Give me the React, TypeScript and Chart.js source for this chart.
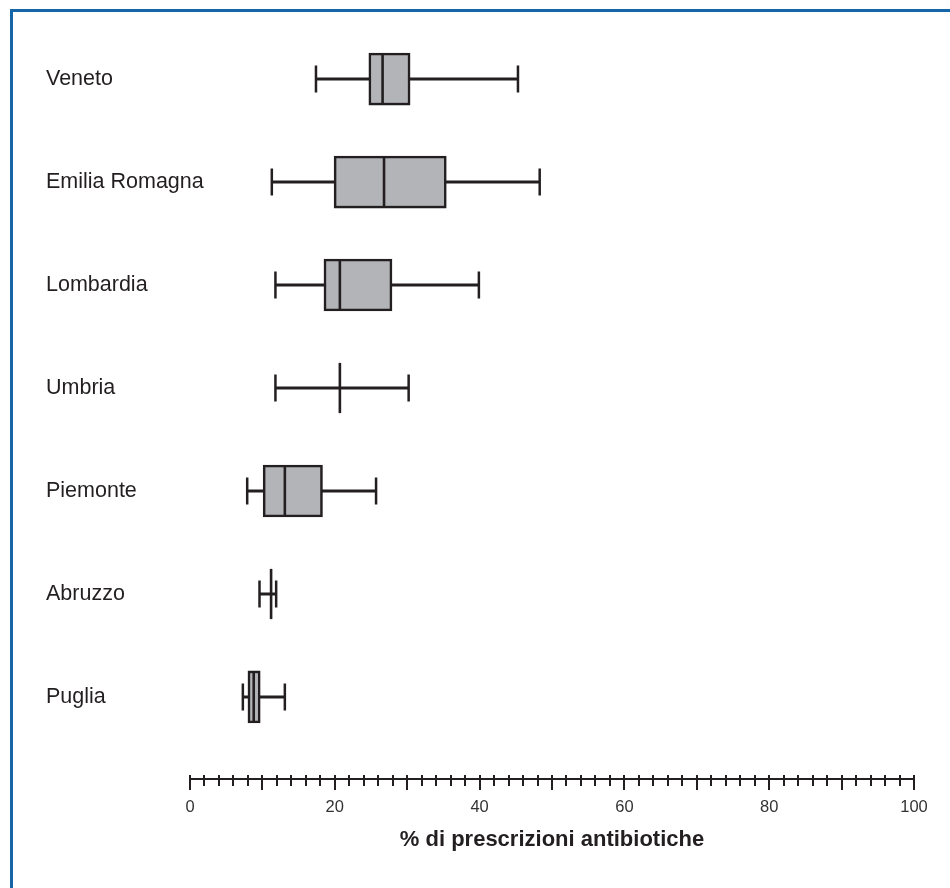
import React, { useEffect, useRef } from "react";
import Chart from "chart.js/auto";

const categories = ["Veneto", "Emilia Romagna", "Lombardia", "Umbria", "Piemonte", "Abruzzo", "Puglia"];
const mins = [17.4, 11.3, 11.8, 11.8, 7.9, 9.6, 7.3];
const q1s = [24.7, 19.9, 18.5, 20.7, 10.1, 11.2, 8.0];
const medians = [26.6, 26.8, 20.7, 20.7, 13.1, 11.2, 8.8];
const q3s = [30.4, 35.4, 27.9, 20.7, 18.3, 11.2, 9.7];
const maxs = [45.3, 48.3, 39.9, 30.2, 25.7, 11.9, 13.1];
const xLabelValues = [0, 20, 40, 60, 80, 100];
const xMajorStep = 10;
const xMinorStep = 2;
const xTitle = "% di prescrizioni antibiotiche";

const INK = "#231f20";
const BOX_FILL = "#b3b4b8";
const FONT = "'Liberation Sans', Arial, Helvetica, sans-serif";

const tickMarksPlugin = {
  id: "tickMarks",
  afterDraw(chart: any) {
    const xs = chart.scales.x;
    const ctx = chart.ctx;
    const yAxis = xs.top;
    ctx.save();
    ctx.strokeStyle = INK;
    ctx.lineWidth = 2;
    for (let v = xs.min; v <= xs.max + 1e-9; v += xMinorStep) {
      const px = Math.round(xs.getPixelForValue(v));
      const isMajor = Math.abs(v / xMajorStep - Math.round(v / xMajorStep)) < 1e-6;
      ctx.beginPath();
      ctx.moveTo(px, yAxis - 4);
      ctx.lineTo(px, yAxis + (isMajor ? 11 : 7));
      ctx.stroke();
    }
    ctx.restore();
  },
};

export default function App() {
  const canvasRef = useRef<HTMLCanvasElement | null>(null);

  useEffect(() => {
    if (!canvasRef.current) return;
    Chart.defaults.font.family = FONT;
    const idx = categories.map((_, i) => i);

    const chart = new Chart(canvasRef.current, {
      type: "bar",
      data: {
        datasets: [
          {
            type: "bar",
            label: "whisker",
            data: idx.map((i) => ({ y: i, x: [mins[i], maxs[i]] })) as any,
            backgroundColor: INK,
            borderWidth: 0,
            barThickness: 2.4,
            grouped: false,
            order: 3,
          } as any,
          {
            type: "bar",
            label: "box",
            data: idx.map((i) => ({ y: i, x: [q1s[i], q3s[i]] })) as any,
            backgroundColor: BOX_FILL,
            borderColor: INK,
            borderWidth: q1s.map((q, i) => (q3s[i] - q > 0 ? 2.6 : 0)),
            borderSkipped: false,
            barThickness: 52,
            grouped: false,
            order: 2,
          } as any,
          {
            type: "scatter",
            label: "caps",
            data: idx.flatMap((i) => [
              { x: mins[i], y: i },
              { x: maxs[i], y: i },
            ]),
            pointStyle: "line",
            rotation: 90,
            radius: 13.5,
            borderColor: INK,
            borderWidth: 2.5,
            order: 1,
          } as any,
          {
            type: "scatter",
            label: "median",
            data: idx.map((i) => ({ x: medians[i], y: i })),
            pointStyle: "line",
            rotation: 90,
            radius: 25,
            borderColor: INK,
            borderWidth: 2.6,
            order: 0,
          } as any,
        ],
      },
      options: {
        indexAxis: "y",
        responsive: false,
        animation: false,
        events: [],
        layout: { padding: { top: 25, left: 46, right: 36, bottom: 0 } },
        plugins: {
          legend: { display: false },
          tooltip: { enabled: false },
        },
        scales: {
          x: {
            type: "linear",
            position: "bottom",
            min: 0,
            max: 100,
            offset: false,
            afterFit: (scale: any) => {
              scale.height = 109;
            },
            ticks: {
              stepSize: xMinorStep,
              maxTicksLimit: 100,
              autoSkip: false,
              maxRotation: 0,
              padding: 12,
              color: "#333333",
              font: { size: 16.5, family: FONT },
              callback: (v: any) => (xLabelValues.includes(Number(v)) ? String(v) : ""),
            },
            grid: {
              display: true,
              drawOnChartArea: false,
              drawTicks: true,
              tickLength: 7,
              color: INK,
              lineWidth: 2,
            },
            border: { display: true, color: INK, width: 2 },
            title: {
              display: true,
              text: xTitle,
              color: INK,
              font: { size: 22, weight: "bold", family: FONT },
              padding: { top: 0, bottom: 35 },
            },
          },
          y: {
            type: "linear",
            reverse: true,
            offset: false,
            min: -0.5,
            max: 6.797,
            afterFit: (scale: any) => {
              scale.width = 144;
            },
            afterBuildTicks: (axis: any) => {
              axis.ticks = categories.map((_, i) => ({ value: i }));
            },
            ticks: {
              mirror: true,
              crossAlign: "near",
              padding: -144,
              autoSkip: false,
              color: INK,
              font: { size: 21.5, family: FONT },
              callback: (v: any) => categories[Math.round(Number(v))] ?? "",
            },
            grid: { display: false },
            border: { display: false },
          },
        },
      } as any,
      plugins: [tickMarksPlugin],
    });

    return () => chart.destroy();
  }, []);

  return (
    <div
      style={{
        position: "fixed",
        left: 0,
        top: 0,
        width: 950,
        height: 888,
        overflow: "hidden",
        background: "#ffffff",
      }}
    >
      <div
        style={{
          position: "absolute",
          left: 10,
          top: 9,
          width: 1000,
          height: 1000,
          borderTop: "3px solid #1565a7",
          borderLeft: "3px solid #1565a7",
          boxSizing: "border-box",
        }}
      />
      <canvas
        ref={canvasRef}
        width={950}
        height={888}
        style={{ position: "absolute", left: 0, top: 0, width: 950, height: 888 }}
      />
    </div>
  );
}
